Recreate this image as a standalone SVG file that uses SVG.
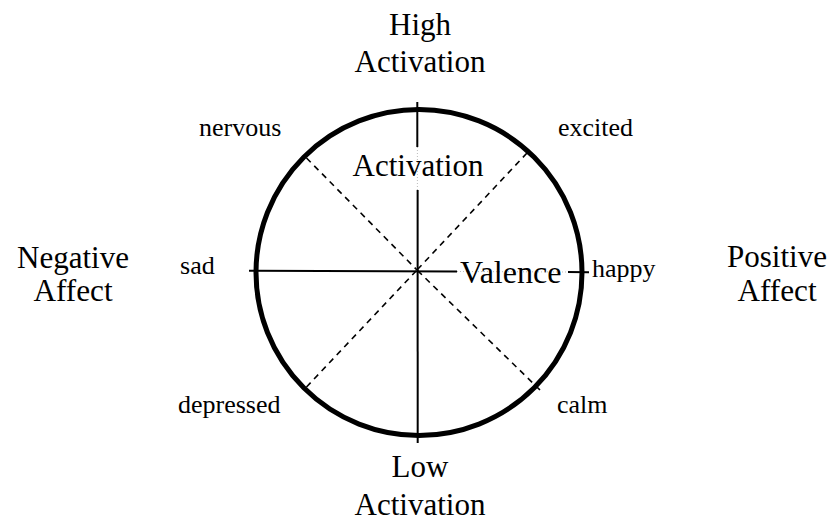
<svg xmlns="http://www.w3.org/2000/svg" width="835" height="529" viewBox="0 0 835 529">
<style>
text{font-family:'Liberation Serif','DejaVu Serif',Tinos,'Times New Roman',serif;fill:#000}
.big{font-size:31px}
.small{font-size:26px}
.axis{stroke:#000;stroke-width:2;fill:none}
.diag{stroke:#000;stroke-width:1.6;stroke-dasharray:6 5;fill:none}
.faint{stroke:#bbb;stroke-width:1;stroke-dasharray:1 2;fill:none}
</style>
<rect width="835" height="529" fill="#fff"/>
<g id="connectors">
<line class="diag" x1="306.5" y1="158" x2="417" y2="270"/>
<line class="diag" x1="527" y1="153" x2="417" y2="270"/>
<line class="diag" x1="306.5" y1="387" x2="417" y2="270"/>
<line class="diag" x1="540" y1="390" x2="417" y2="270"/>
<line class="axis" x1="417.3" y1="102" x2="417.3" y2="147"/>
<line class="axis" x1="417.6" y1="190" x2="417.7" y2="443"/>
<line class="faint" x1="417.4" y1="147" x2="417.4" y2="190"/>
<line class="axis" x1="249" y1="270.7" x2="457" y2="271.5"/>
<line class="axis" x1="568" y1="272" x2="589" y2="272.2"/>
<line class="faint" x1="457" y1="271.5" x2="568" y2="272"/>
</g>
<g id="circle">
<circle cx="419" cy="272.5" r="163" fill="none" stroke="#000" stroke-width="5"/>
</g>
<g id="axis-labels">
<text class="big" x="418" y="176" text-anchor="middle" textLength="131" lengthAdjust="spacingAndGlyphs">Activation</text>
<text class="big" x="460" y="283" textLength="101.6" lengthAdjust="spacingAndGlyphs">Valence</text>
</g>
<g id="high">
<text class="big" x="420" y="35" text-anchor="middle" textLength="62" lengthAdjust="spacingAndGlyphs">High</text>
<text class="big" x="420" y="72" text-anchor="middle" textLength="131" lengthAdjust="spacingAndGlyphs">Activation</text>
</g>
<g id="low">
<text class="big" x="420" y="477" text-anchor="middle" textLength="56.8" lengthAdjust="spacingAndGlyphs">Low</text>
<text class="big" x="420" y="515" text-anchor="middle" textLength="131" lengthAdjust="spacingAndGlyphs">Activation</text>
</g>
<g id="negative">
<text class="big" x="73" y="268" text-anchor="middle" textLength="112" lengthAdjust="spacingAndGlyphs">Negative</text>
<text class="big" x="73" y="301" text-anchor="middle" textLength="79.2" lengthAdjust="spacingAndGlyphs">Affect</text>
</g>
<g id="positive">
<text class="big" x="777" y="267" text-anchor="middle" textLength="100" lengthAdjust="spacingAndGlyphs">Positive</text>
<text class="big" x="777" y="301" text-anchor="middle" textLength="79.2" lengthAdjust="spacingAndGlyphs">Affect</text>
</g>
<g id="nervous"><text class="small" x="199" y="136" textLength="82.3" lengthAdjust="spacingAndGlyphs">nervous</text></g>
<g id="excited"><text class="small" x="558" y="136" textLength="75.1" lengthAdjust="spacingAndGlyphs">excited</text></g>
<g id="sad"><text class="small" x="180" y="274" textLength="34.7" lengthAdjust="spacingAndGlyphs">sad</text></g>
<g id="happy"><text class="small" x="592" y="277" textLength="63.5" lengthAdjust="spacingAndGlyphs">happy</text></g>
<g id="depressed"><text class="small" x="178" y="413" textLength="102.5" lengthAdjust="spacingAndGlyphs">depressed</text></g>
<g id="calm"><text class="small" x="557" y="413" textLength="50.5" lengthAdjust="spacingAndGlyphs">calm</text></g>
</svg>
